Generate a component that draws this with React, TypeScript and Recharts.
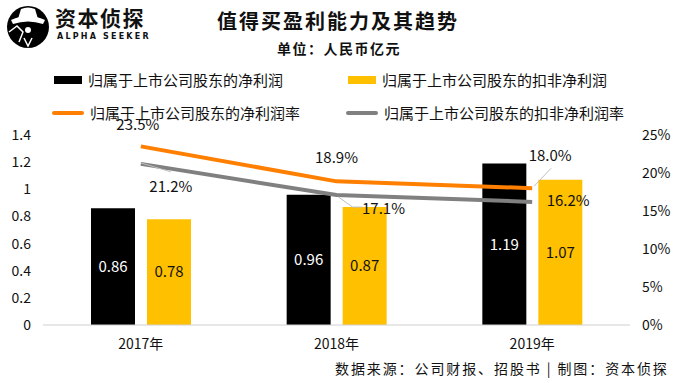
import React from 'react';
import { ComposedChart, Bar, Line, XAxis, YAxis, LabelList } from 'recharts';

const years = ['2017年', '2018年', '2019年'];
const netProfit = [0.86, 0.96, 1.19];
const deductedProfit = [0.78, 0.87, 1.07];
const netMargin = [23.5, 18.9, 18.0];
const deductedMargin = [21.2, 17.1, 16.2];
const leftTicks = [0, 0.2, 0.4, 0.6, 0.8, 1, 1.2, 1.4];
const rightTicks = [0, 5, 10, 15, 20, 25];

const NET = '归属于上市公司股东的净利润';
const DED = '归属于上市公司股东的扣非净利润';
const NET_R = '归属于上市公司股东的净利润率';
const DED_R = '归属于上市公司股东的扣非净利润率';

const data = years.map((y, i) => ({
  year: y,
  net: netProfit[i],
  ded: deductedProfit[i],
  netRate: netMargin[i],
  dedRate: deductedMargin[i],
}));

const FONT = '"Noto Sans CJK SC", "Noto Sans", sans-serif';

// label placement relative to each line point
const orangeOffsets = [
  { dx: -3, dy: -22 },
  { dx: 0, dy: -24 },
  { dx: 18, dy: -32, leader: [[2, -2], [19, -20]] },
];
const grayOffsets = [
  { dx: 30, dy: 23, leader: [[0, -1], [30, 8]] },
  { dx: 47, dy: 14, leader: [[2, 2], [16, 12], [26, 12]] },
  { dx: 36, dy: -1 },
];

const makeRateLabel = (offsets: any[]) => (props: any) => {
  const { x, y, value, index } = props;
  const o = offsets[index];
  return (
    <g>
      {o.leader && (
        <polyline
          points={o.leader.map((p: number[]) => `${x + p[0]},${y + p[1]}`).join(' ')}
          fill="none"
          stroke="#bfbfbf"
          strokeWidth={1}
        />
      )}
      <text x={x + o.dx} y={y + o.dy} dy="0.35em" textAnchor="middle" fontSize={15} fill="#111" fontFamily={FONT}>
        {`${value.toFixed(1)}%`}
      </text>
    </g>
  );
};

const LegendBox = () => {
  const item = (label: string, marker: React.ReactNode, left: number, top: number) => (
    <div style={{ position: 'absolute', left, top, display: 'flex', alignItems: 'center', whiteSpace: 'nowrap', height: 20 }}>
      {marker}
      <span style={{ fontSize: 15, lineHeight: '20px', color: '#111', marginLeft: 6 }}>{label}</span>
    </div>
  );
  const rect = (c: string) => <div style={{ width: 28, height: 8, background: c }} />;
  const line = (c: string) => <div style={{ width: 32, height: 4, borderRadius: 2, background: c }} />;
  return (
    <>
      {item(NET, rect('#000000'), 54, 70)}
      {item(DED, rect('#FFC000'), 348, 70)}
      {item(NET_R, line('#FF7F00'), 52, 103)}
      {item(DED_R, line('#808080'), 346, 103)}
    </>
  );
};

const Logo = () => (
  <svg width={50} height={50} style={{ position: 'absolute', left: 3, top: 2 }}>
    <circle cx={25} cy={25} r={21} fill="#000" />
    <path d="M8 18 Q25 10 42 18 L40 22 Q25 17 10 22 Z" fill="#fff" />
    <path d="M15 17 L18 7 Q25 4 32 7 L35 17 Z" fill="#fff" />
    <path d="M6 30 L14 24 L20 30 L16 40" fill="none" stroke="#fff" strokeWidth={1.5} />
    <circle cx={25} cy={28} r={3} fill="#fff" />
    <path d="M21 36 L25 44 L29 36" fill="none" stroke="#fff" strokeWidth={1.5} />
  </svg>
);

export default function App() {
  return (
    <div style={{ position: 'absolute', left: 0, top: 0, width: 679, height: 383, background: '#fff', fontFamily: FONT }}>
      <ComposedChart width={679} height={383} data={data} margin={{ top: 135, right: 0, bottom: 28, left: 0 }} barGap={12}>
        <XAxis
          dataKey="year"
          height={30}
          axisLine={{ stroke: '#d0d0d0' }}
          tickLine={false}
          tickSize={0}
          tickMargin={14}
          tick={{ fontSize: 14, fill: '#111', fontFamily: FONT }}
        />
        <YAxis
          yAxisId="left"
          width={43}
          domain={[0, 1.4]}
          ticks={leftTicks}
          interval={0}
          axisLine={false}
          tickLine={false}
          tickSize={0}
          tickMargin={12}
          tick={{ fontSize: 14, fill: '#111', fontFamily: FONT }}
        />
        <YAxis
          yAxisId="right"
          orientation="right"
          width={49}
          domain={[0, 25]}
          ticks={rightTicks}
          interval={0}
          tickFormatter={(v: number) => `${v}%`}
          axisLine={false}
          tickLine={false}
          tickSize={0}
          tickMargin={12}
          tick={{ fontSize: 14, fill: '#111', fontFamily: FONT }}
        />
        <Bar yAxisId="left" dataKey="net" name={NET} fill="#000000" barSize={44} isAnimationActive={false}>
          <LabelList dataKey="net" position="center" fill="#ffffff" fontSize={15} fontFamily={FONT} />
        </Bar>
        <Bar yAxisId="left" dataKey="ded" name={DED} fill="#FFC000" barSize={44} isAnimationActive={false}>
          <LabelList dataKey="ded" position="center" fill="#111111" fontSize={15} fontFamily={FONT} />
        </Bar>
        <Line yAxisId="right" dataKey="netRate" name={NET_R} stroke="#FF7F00" strokeWidth={4} dot={false} isAnimationActive={false}>
          <LabelList dataKey="netRate" content={makeRateLabel(orangeOffsets)} />
        </Line>
        <Line yAxisId="right" dataKey="dedRate" name={DED_R} stroke="#808080" strokeWidth={4} dot={false} isAnimationActive={false}>
          <LabelList dataKey="dedRate" content={makeRateLabel(grayOffsets)} />
        </Line>
      </ComposedChart>
      <LegendBox />
      <Logo />
      <div style={{ position: 'absolute', left: 55, top: 7, fontSize: 21, lineHeight: 1, fontWeight: 700, letterSpacing: 1.5, color: '#111' }}>资本侦探</div>
      <div style={{ position: 'absolute', left: 57, top: 33, fontSize: 8, lineHeight: 1, fontWeight: 700, letterSpacing: 2.2, color: '#111', fontFamily: 'DejaVu Sans, sans-serif' }}>ALPHA SEEKER</div>
      <div style={{ position: 'absolute', left: 217, top: 11, fontSize: 20, lineHeight: 1, fontWeight: 700, letterSpacing: 2, color: '#111' }}>值得买盈利能力及其趋势</div>
      <div style={{ position: 'absolute', left: 277, top: 41, fontSize: 14, lineHeight: 1, fontWeight: 700, letterSpacing: 1.5, color: '#111' }}>单位：人民币亿元</div>
      <div style={{ position: 'absolute', left: 335, top: 361, fontSize: 14, lineHeight: 1, letterSpacing: 1.9, color: '#111', whiteSpace: 'nowrap' }}>
        数据来源：公司财报、招股书 | 制图：资本侦探
      </div>
    </div>
  );
}
